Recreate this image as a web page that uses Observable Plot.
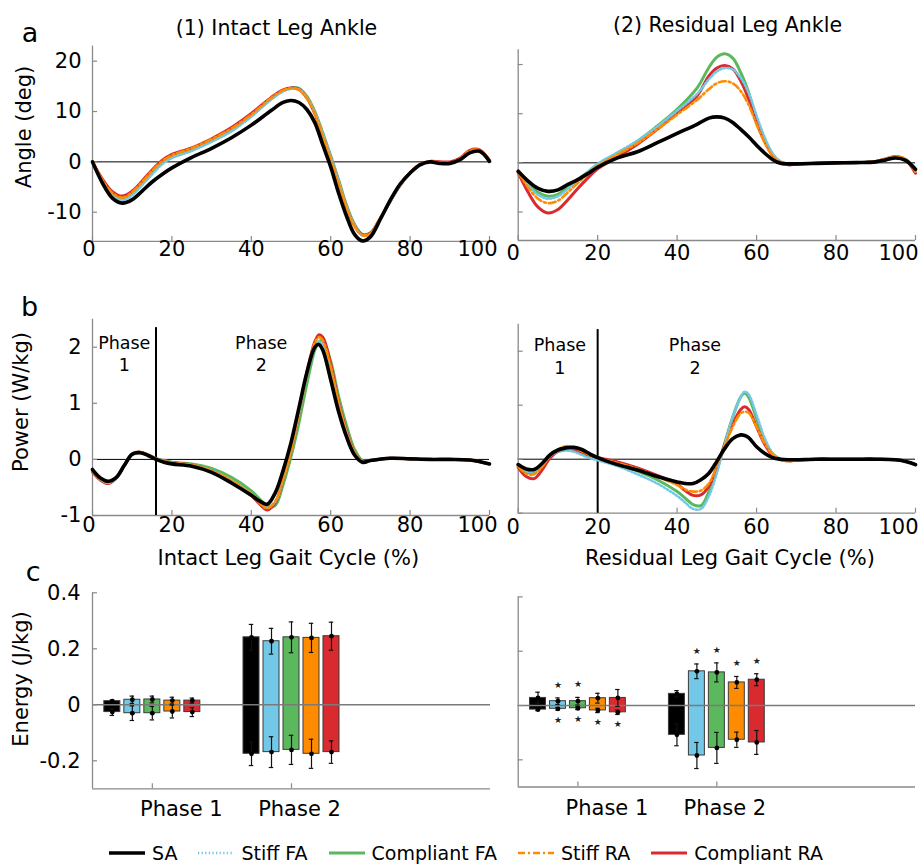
<!DOCTYPE html>
<html>
<head>
<meta charset="utf-8">
<script src="https://cdn.jsdelivr.net/npm/d3@7"></script>
<script src="https://cdn.jsdelivr.net/npm/@observablehq/plot@0.6"></script>
<style>
html,body{margin:0;padding:0;background:#fff;}
#fig{position:relative;width:919px;height:865px;overflow:hidden;font-family:"DejaVu Sans",sans-serif;color:#000;background:#fff;}
.lab{position:absolute;white-space:nowrap;line-height:1;}
.pan{position:absolute;}
</style>
</head>
<body>
<div id="fig"></div>
<script>
// ---------------- DATA ----------------
const conditions = ["SA", "Stiff FA", "Compliant FA", "Stiff RA", "Compliant RA"];
const colors = ["#000000", "#72c8e6", "#5cb85c", "#ff8c00", "#d92b2f"];
const gaitTicks = [0, 20, 40, 60, 80, 100];
const angleTicks = [-10, 0, 10, 20];
const powerTicks = [-1, 0, 1, 2];
const energyTicks = [-0.2, 0, 0.2, 0.4];
const phaseNames = ["Phase 1", "Phase 2"];

// (a1) intact leg ankle angle (deg)
const intactAngleX = [0,2.5,5,7.5,10,12.5,15,17.5,20,25,30,35,40,45,48,50,52,54,56,58,60,62,64,66,68,70,72.5,75,77.5,80,82.5,85,87.5,90,92.5,95,97.5,100];
const intactAngleSA = [0,-4.2,-7.2,-8.2,-7.5,-5.8,-4.0,-2.5,-1.2,0.9,2.7,4.8,7.3,10.2,11.8,12.2,11.8,10.4,7.8,3.4,-1.0,-6.2,-10.8,-14.4,-15.7,-14.9,-11.4,-7.6,-4.4,-2.2,-0.6,0.0,-0.3,-0.3,0.4,1.8,2.1,0.1];
const intactAngleStiffFA = [0,-3.9,-6.6,-7.6,-6.6,-4.6,-2.5,-0.5,0.8,2.2,4.0,6.1,9.0,12.4,14.0,14.5,14.4,12.8,9.8,5.6,1.0,-3.8,-8.8,-12.6,-14.6,-14.3,-11.3,-7.9,-4.7,-2.3,-0.6,0.0,-0.2,-0.2,0.4,1.9,2.1,0.2];
const intactAngleCompliantFA = [0,-3.8,-6.5,-7.4,-6.4,-4.4,-2.3,-0.3,0.9,2.3,4.1,6.2,9.1,12.5,14.1,14.7,14.6,13.0,10.0,5.8,1.2,-3.6,-8.6,-12.4,-14.4,-14.1,-11.2,-7.8,-4.6,-2.2,-0.6,0.1,-0.1,-0.2,0.5,2.0,2.2,0.3];
const intactAngleStiffRA = [0,-3.6,-6.2,-7.1,-6.0,-4.0,-1.8,0.1,1.3,2.7,4.5,6.6,9.4,12.7,14.2,14.6,14.3,12.6,9.5,5.2,0.6,-4.2,-9.1,-12.8,-14.6,-14.2,-11.2,-7.8,-4.6,-2.2,-0.5,0.1,-0.1,-0.1,0.6,2.2,2.3,0.3];
const intactAngleCompliantRA = [0,-3.4,-5.9,-6.8,-5.8,-3.8,-1.6,0.3,1.5,2.8,4.6,6.8,9.6,12.8,14.3,14.7,14.4,12.7,9.6,5.3,0.7,-4.1,-9.0,-12.7,-14.5,-14.2,-11.2,-7.8,-4.6,-2.2,-0.5,0.1,0.0,0.0,0.7,2.3,2.4,0.3];

// (a2) residual leg ankle angle (deg)
const residualAngleX = [0,2.5,5,7.5,10,12.5,15,17.5,20,25,30,35,40,45,48,50,52,54,56,58,60,62,64,66,68,70,75,80,85,90,92.5,95,97.5,100];
const residualAngleSA = [-1.7,-3.7,-5.2,-5.8,-5.5,-4.4,-3.4,-2.2,-0.9,1.0,2.25,4.1,6.0,7.85,9.1,9.35,9.1,8.2,6.8,5.3,3.6,2.0,0.7,-0.1,-0.2,-0.2,-0.1,0,0.05,0.2,0.6,1.0,0.5,-1.3];
const residualAngleStiffFA = [-1.8,-4.6,-6.5,-7.3,-6.8,-5.3,-3.6,-1.9,-0.2,2.1,4.5,7.4,10.6,14.0,17.0,18.6,19.3,19.0,17.3,14.2,9.6,5.3,2.0,0.2,-0.2,-0.2,-0.1,0,0.05,0.3,0.8,1.2,0.7,-1.7];
const residualAngleCompliantFA = [-1.8,-4.3,-6.0,-6.8,-6.4,-5.0,-3.5,-1.9,-0.3,2.0,4.4,7.5,10.9,15.2,19.4,21.5,22.2,21.3,18.4,14.3,8.9,4.8,1.7,0.2,-0.2,-0.2,-0.1,0,0.05,0.3,0.8,1.2,0.7,-1.5];
const residualAngleStiffRA = [-1.9,-5.0,-7.3,-8.2,-7.7,-6.0,-4.1,-2.3,-0.6,1.7,4.0,6.8,9.8,12.8,15.0,16.2,16.6,16.2,14.6,11.8,7.8,4.2,1.4,0.1,-0.2,-0.2,-0.1,0,0.05,0.3,0.8,1.3,0.7,-1.8];
const residualAngleCompliantRA = [-2.0,-6.0,-9.0,-10.2,-9.5,-7.5,-5.2,-3.1,-1.2,1.2,3.8,6.8,10.2,13.6,17.7,19.3,19.8,19.1,16.7,13.0,8.2,4.4,1.6,0.1,-0.4,-0.3,-0.1,0,0.05,0.3,0.8,1.3,0.6,-2.1];

// (b1) intact leg ankle power (W/kg)
const intactPowerX = [0,2,4,6,8,10,12,14,16,18,20,25,30,35,40,42,44,46,48,50,52,54,56,57,58,60,62,64,66,68,70,75,80,85,90,95,100];
const intactPowerSA = [-0.18,-0.33,-0.39,-0.32,-0.11,0.09,0.12,0.07,0.0,-0.05,-0.08,-0.12,-0.23,-0.42,-0.64,-0.74,-0.80,-0.60,-0.20,0.30,0.92,1.55,2.0,2.05,1.95,1.42,0.85,0.40,0.08,-0.05,-0.02,0.02,0.01,0.0,0.0,-0.01,-0.08];
const intactPowerStiffFA = [-0.2,-0.36,-0.42,-0.33,-0.1,0.1,0.13,0.08,0.01,-0.03,-0.06,-0.1,-0.2,-0.38,-0.62,-0.76,-0.86,-0.76,-0.36,0.15,0.8,1.5,2.0,2.1,2.05,1.62,1.0,0.48,0.12,-0.05,-0.02,0.02,0.01,0.0,0.0,-0.01,-0.08];
const intactPowerCompliantFA = [-0.2,-0.35,-0.42,-0.33,-0.1,0.09,0.12,0.08,0.02,-0.02,-0.05,-0.08,-0.16,-0.32,-0.56,-0.7,-0.82,-0.82,-0.45,0.05,0.65,1.35,1.95,2.1,2.12,1.75,1.12,0.6,0.18,-0.02,-0.02,0.02,0.01,0.0,0.0,-0.01,-0.08];
const intactPowerStiffRA = [-0.2,-0.35,-0.41,-0.32,-0.1,0.1,0.13,0.08,0.01,-0.03,-0.06,-0.1,-0.2,-0.38,-0.62,-0.77,-0.87,-0.75,-0.35,0.15,0.82,1.52,2.08,2.18,2.12,1.65,1.0,0.48,0.12,-0.05,-0.02,0.02,0.01,0.0,0.0,-0.01,-0.08];
const intactPowerCompliantRA = [-0.22,-0.37,-0.43,-0.33,-0.1,0.1,0.13,0.08,0.01,-0.03,-0.06,-0.1,-0.21,-0.4,-0.64,-0.79,-0.9,-0.78,-0.36,0.15,0.82,1.55,2.1,2.22,2.18,1.7,1.02,0.5,0.12,-0.05,-0.02,0.02,0.01,0.0,0.0,-0.01,-0.08];

// (b2) residual leg ankle power (W/kg)
const residualPowerX = [0,2,4,6,8,10,12,14,16,18,20,25,30,35,40,42,44,46,48,50,52,54,56,57,58,60,62,64,66,68,70,75,80,85,90,95,98,100];
const residualPowerSA = [-0.1,-0.18,-0.19,-0.08,0.08,0.17,0.21,0.22,0.18,0.1,0.03,-0.1,-0.2,-0.32,-0.42,-0.45,-0.45,-0.38,-0.26,-0.04,0.2,0.38,0.45,0.44,0.4,0.23,0.11,0.03,0.0,-0.01,-0.01,0,0,0,0,-0.01,-0.05,-0.1];
const residualPowerStiffFA = [-0.12,-0.22,-0.22,-0.1,0.06,0.14,0.17,0.14,0.08,0.02,-0.02,-0.13,-0.28,-0.45,-0.68,-0.8,-0.92,-0.92,-0.68,-0.26,0.28,0.78,1.15,1.25,1.2,0.82,0.4,0.12,0.0,-0.03,-0.02,0,0,0,0,-0.01,-0.05,-0.1];
const residualPowerCompliantFA = [-0.12,-0.24,-0.24,-0.1,0.06,0.14,0.17,0.15,0.1,0.04,0.0,-0.1,-0.22,-0.38,-0.6,-0.72,-0.84,-0.86,-0.6,-0.2,0.3,0.78,1.15,1.22,1.15,0.75,0.35,0.1,0.0,-0.03,-0.02,0,0,0,0,-0.01,-0.05,-0.1];
const residualPowerStiffRA = [-0.13,-0.27,-0.28,-0.14,0.06,0.18,0.24,0.22,0.15,0.08,0.02,-0.07,-0.18,-0.32,-0.48,-0.56,-0.6,-0.58,-0.45,-0.12,0.25,0.6,0.85,0.88,0.86,0.6,0.3,0.09,0.0,-0.04,-0.02,0,0,0,0,-0.01,-0.05,-0.1];
const residualPowerCompliantRA = [-0.15,-0.32,-0.36,-0.2,0.02,0.15,0.2,0.18,0.12,0.07,0.03,-0.05,-0.16,-0.3,-0.46,-0.58,-0.67,-0.66,-0.5,-0.15,0.28,0.65,0.92,0.97,0.92,0.6,0.28,0.07,-0.01,-0.03,-0.02,0,0,0,0,-0.01,-0.05,-0.1];

const intactPhaseBoundary = 16;
const residualPhaseBoundary = 20;

// (c) energy (J/kg): [phase][condition]
const intactPosMean = [[0.013,0.018,0.019,0.015,0.015],[0.241,0.227,0.241,0.239,0.245]];
const intactPosSd   = [[0.004,0.013,0.012,0.012,0.009],[0.046,0.046,0.055,0.052,0.050]];
const intactNegMean = [[-0.026,-0.030,-0.030,-0.024,-0.026],[-0.175,-0.169,-0.161,-0.175,-0.169]];
const intactNegSd   = [[0.012,0.026,0.024,0.023,0.016],[0.042,0.055,0.052,0.052,0.040]];
const residualPosMean = [[0.028,0.016,0.016,0.027,0.028],[0.043,0.126,0.122,0.085,0.095]];
const residualPosSd   = [[0.021,0.012,0.014,0.018,0.031],[0.012,0.027,0.035,0.022,0.022]];
const residualNegMean = [[-0.015,-0.012,-0.010,-0.018,-0.025],[-0.108,-0.184,-0.156,-0.126,-0.136]];
const residualNegSd   = [[0.004,0.005,0.005,0.008,0.008],[0.040,0.048,0.057,0.028,0.044]];
const residualSigAbove = [[0,1,1,0,0],[0,1,1,1,1]];
const residualSigBelow = [[0,1,1,1,1],[0,0,0,0,0]];

// ---------------- DRAWING ----------------
const FONT = "'DejaVu Sans', sans-serif";
const AXIS = "#8a8a8a";
const fig = document.getElementById("fig");
const lineStyles = [
  {strokeWidth: 3.6},
  {strokeWidth: 2.6, strokeDasharray: "1.3,2.3"},
  {strokeWidth: 3},
  {strokeWidth: 2.6, strokeDasharray: "7,3,2,3"},
  {strokeWidth: 3}
];
const drawOrder = [2, 4, 1, 3, 0];

function margins(f, b) {
  return {marginLeft: f.x1 - b.l, marginRight: b.l + b.w - f.x2, marginTop: f.y1 - b.t, marginBottom: b.t + b.h - f.y2};
}
function mount(svg, b) {
  const d = document.createElement("div");
  d.className = "pan";
  d.style.left = b.l + "px"; d.style.top = b.t + "px";
  d.style.width = b.w + "px"; d.style.height = b.h + "px";
  d.appendChild(svg);
  fig.appendChild(d);
}
const svgStyle = {fontFamily: FONT, background: "transparent", overflow: "visible", color: "#000"};

function linePanel(p) {
  const fw = p.frame.x2 - p.frame.x1, fh = p.frame.y2 - p.frame.y1;
  const tickText = {label: null, tickSize: 0, tickPadding: p.xPad, fontSize: 21, tickFormat: d => String(d)};
  const marks = [
    Plot.ruleY([0], {stroke: "#000", strokeWidth: 1}),
    Plot.ruleX([0], {stroke: AXIS, strokeWidth: 1.3}),
    Plot.ruleY([p.yDomain[0]], {stroke: AXIS, strokeWidth: 1.3}),
    Plot.tickX(gaitTicks, {stroke: AXIS, strokeWidth: 1.2, insetTop: fh - 5}),
    Plot.tickY(p.yTicks, {stroke: AXIS, strokeWidth: 1.2, insetRight: fw - 5})
  ];
  if (p.phase) {
    marks.push(Plot.ruleX([p.phase.at], {y1: p.yDomain[0], y2: p.phase.top, stroke: "#000", strokeWidth: 2}));
    marks.push(Plot.text(p.phase.labels, {x: "x", y: "y", text: "t", fontSize: 17.5, lineHeight: 1.3, fill: "#000"}));
  }
  for (const i of drawOrder) {
    const rows = p.xs.map((x, k) => ({x, y: p.ys[i][k]}));
    marks.push(Plot.line(rows, {x: "x", y: "y", stroke: colors[i], curve: "catmull-rom", strokeLinejoin: "round", ...lineStyles[i]}));
  }
  marks.push(Plot.axisX({...tickText, ticks: gaitTicks.slice(1, -1)}));
  marks.push(Plot.axisX({...tickText, ticks: [0], dx: p.dx0}));
  marks.push(Plot.axisX({...tickText, ticks: [100], dx: p.dx100}));
  if (p.yLabels) marks.push(Plot.axisY({label: null, ticks: p.yTicks, tickSize: 0, tickPadding: 11, fontSize: 21, tickFormat: d => String(d)}));
  const svg = Plot.plot({
    width: p.box.w, height: p.box.h, ...margins(p.frame, p.box),
    x: {domain: [0, 100]},
    y: p.yLabels ? {domain: p.yDomain} : {domain: p.yDomain, axis: null},
    style: svgStyle,
    marks
  });
  mount(svg, p.box);
}

const BAR_STEP = 0.1437, BAR_HALF = 0.0575, CAP = 0.016;
function energyPanel(p) {
  const fw = p.frame.x2 - p.frame.x1, fh = p.frame.y2 - p.frame.y1;
  const rows = [];
  for (let g = 0; g < 2; g++) for (let i = 0; i < 5; i++) {
    rows.push({g, i, c: g + 1 + (i - 2) * BAR_STEP, pos: p.pm[g][i], ps: p.ps[g][i], neg: p.nm[g][i], ns: p.ns[g][i], color: colors[i],
      above: p.above ? p.above[g][i] : 0, below: p.below ? p.below[g][i] : 0});
  }
  const ends = rows.flatMap(r => [{c: r.c, m: r.pos, s: r.ps}, {c: r.c, m: r.neg, s: r.ns}]);
  const caps = ends.flatMap(e => [{c: e.c, v: e.m - e.s}, {c: e.c, v: e.m + e.s}]);
  const marks = [
    Plot.rect(rows, {x1: d => d.c - BAR_HALF, x2: d => d.c + BAR_HALF, y1: "neg", y2: "pos", fill: "color", stroke: "#3a3a3a", strokeWidth: 1}),
    Plot.ruleY([0], {stroke: "#7a7a7a", strokeWidth: 1.5}),
    Plot.ruleX(ends, {x: "c", y1: d => d.m - d.s, y2: d => d.m + d.s, stroke: "#111", strokeWidth: 1.2}),
    Plot.ruleY(caps, {y: "v", x1: d => d.c - CAP, x2: d => d.c + CAP, stroke: "#111", strokeWidth: 1.2}),
    Plot.dot(ends, {x: "c", y: "m", r: 2.4, fill: "#000", stroke: null}),
    Plot.text(rows.filter(r => r.above), {x: "c", y: d => d.pos + d.ps, text: () => "\u2605", dy: -13, fontSize: 9, fill: "#222"}),
    Plot.text(rows.filter(r => r.below), {x: "c", y: d => d.neg - d.ns, text: () => "\u2605", dy: 10, fontSize: 9, fill: "#222"}),
    Plot.ruleX([p.xDomain[0]], {stroke: AXIS, strokeWidth: 1.3}),
    Plot.ruleY([-0.3], {stroke: AXIS, strokeWidth: 1.3}),
    Plot.tickX([1, 2], {stroke: AXIS, strokeWidth: 1.2, insetTop: fh - 5}),
    Plot.tickY(energyTicks, {stroke: AXIS, strokeWidth: 1.2, insetRight: fw - 5}),
    Plot.axisX({label: null, ticks: [1], tickSize: 0, tickPadding: p.xPad, fontSize: 21, dx: 29, tickFormat: () => phaseNames[0]}),
    Plot.axisX({label: null, ticks: [2], tickSize: 0, tickPadding: p.xPad, fontSize: 21, dx: 8, tickFormat: () => phaseNames[1]})
  ];
  if (p.yLabels) marks.push(Plot.axisY({label: null, ticks: energyTicks, tickSize: 0, tickPadding: 12, fontSize: 21, tickFormat: d => String(d)}));
  const svg = Plot.plot({
    width: p.box.w, height: p.box.h, ...margins(p.frame, p.box),
    x: {domain: p.xDomain},
    y: p.yLabels ? {domain: [-0.3, 0.4]} : {domain: [-0.3, 0.4], axis: null},
    color: {type: "identity"},
    style: svgStyle,
    marks
  });
  mount(svg, p.box);
}

// panel a
linePanel({
  xs: intactAngleX,
  ys: [intactAngleSA, intactAngleStiffFA, intactAngleCompliantFA, intactAngleStiffRA, intactAngleCompliantRA],
  yDomain: [-15.8, 23], yTicks: angleTicks, yLabels: true,
  frame: {x1: 92, x2: 489, y1: 45.6, y2: 240.9}, box: {l: 0, t: 0, w: 505, h: 270},
  xPad: 0, dx0: -3.5, dx100: -12
});
linePanel({
  xs: residualAngleX,
  ys: [residualAngleSA, residualAngleStiffFA, residualAngleCompliantFA, residualAngleStiffRA, residualAngleCompliantRA],
  yDomain: [-15.8, 23], yTicks: angleTicks, yLabels: false,
  frame: {x1: 517.7, x2: 915, y1: 49.3, y2: 240}, box: {l: 505, t: 0, w: 414, h: 270},
  xPad: 5, dx0: -5, dx100: -17
});
// panel b
linePanel({
  xs: intactPowerX,
  ys: [intactPowerSA, intactPowerStiffFA, intactPowerCompliantFA, intactPowerStiffRA, intactPowerCompliantRA],
  yDomain: [-1, 2.5], yTicks: powerTicks, yLabels: true,
  frame: {x1: 92, x2: 489, y1: 318.7, y2: 515}, box: {l: 0, t: 270, w: 505, h: 300},
  xPad: 2, dx0: -3.5, dx100: -12,
  phase: {at: intactPhaseBoundary, top: 2.35, labels: [{x: 8, y: 1.9, t: "Phase\n1"}, {x: 42.5, y: 1.9, t: "Phase\n2"}]}
});
linePanel({
  xs: residualPowerX,
  ys: [residualPowerSA, residualPowerStiffFA, residualPowerCompliantFA, residualPowerStiffRA, residualPowerCompliantRA],
  yDomain: [-1, 2.5], yTicks: powerTicks, yLabels: false,
  frame: {x1: 517.7, x2: 915, y1: 323.7, y2: 512.7}, box: {l: 505, t: 270, w: 414, h: 300},
  xPad: 6, dx0: -5, dx100: -17,
  phase: {at: residualPhaseBoundary, top: 2.4, labels: [{x: 10.5, y: 1.92, t: "Phase\n1"}, {x: 44.5, y: 1.92, t: "Phase\n2"}]}
});
// panel c
energyPanel({
  pm: intactPosMean, ps: intactPosSd, nm: intactNegMean, ns: intactNegSd,
  yLabels: true, xDomain: [0.57, 3.43],
  frame: {x1: 92, x2: 490, y1: 592.3, y2: 788.3}, box: {l: 0, t: 570, w: 505, h: 255}, xPad: 12
});
energyPanel({
  pm: residualPosMean, ps: residualPosSd, nm: residualNegMean, ns: residualNegSd,
  above: residualSigAbove, below: residualSigBelow,
  yLabels: false, xDomain: [0.57, 3.43],
  frame: {x1: 517.7, x2: 915, y1: 596.4, y2: 786.5}, box: {l: 505, t: 570, w: 414, h: 255}, xPad: 13.5
});

// ---------------- TEXT LABELS ----------------
function label(text, cx, cy, size, rotate) {
  const d = document.createElement("div");
  d.className = "lab";
  d.textContent = text;
  d.style.left = cx + "px"; d.style.top = cy + "px";
  d.style.fontSize = size + "px";
  d.style.transform = "translate(-50%,-50%)" + (rotate ? " rotate(-90deg)" : "");
  fig.appendChild(d);
}
label("a", 30, 31.5, 27);
label("b", 29.5, 305.7, 27);
label("c", 33.3, 570.7, 27);
label("(1) Intact Leg Ankle", 276.5, 27.8, 20.5);
label("(2) Residual Leg Ankle", 727.5, 24.6, 20.5);
label("Angle (deg)", 24, 127, 21, true);
label("Power (W/kg)", 21, 401.5, 21, true);
label("Energy (J/kg)", 21, 679, 21, true);
label("Intact Leg Gait Cycle (%)", 288.3, 557.7, 21);
label("Residual Leg Gait Cycle (%)", 730, 557.7, 21);

// ---------------- LEGEND ----------------
const legend = document.createElement("div");
legend.style.cssText = "position:absolute;left:108px;top:841px;height:24px;display:flex;align-items:center;font-size:19px;line-height:1;white-space:nowrap;";
conditions.forEach((name, i) => {
  const item = document.createElement("div");
  item.style.cssText = "display:flex;align-items:center;margin-right:" + (i < 4 ? 20 : 0) + "px;";
  const sw = d3.create("svg").attr("width", 38).attr("height", 12).style("margin-right", "6px");
  const ln = sw.append("line").attr("x1", 1).attr("x2", 37).attr("y1", 6).attr("y2", 6)
    .attr("stroke", colors[i]).attr("stroke-width", lineStyles[i].strokeWidth);
  if (lineStyles[i].strokeDasharray) ln.attr("stroke-dasharray", lineStyles[i].strokeDasharray);
  item.appendChild(sw.node());
  const t = document.createElement("span");
  t.textContent = name;
  item.appendChild(t);
  legend.appendChild(item);
});
fig.appendChild(legend);
</script>
</body>
</html>
